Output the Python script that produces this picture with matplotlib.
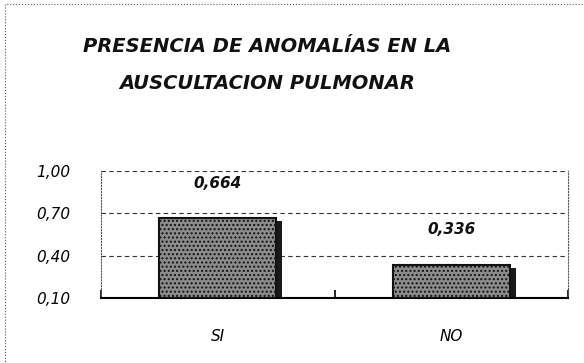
import matplotlib
matplotlib.use("Agg")
import matplotlib.pyplot as plt
from matplotlib.patches import Rectangle

categories = ["SI", "NO"]
values = [0.664, 0.336]
value_labels = ["0,664", "0,336"]
yticks = [0.10, 0.40, 0.70, 1.00]
ytick_labels = ["0,10", "0,40", "0,70", "1,00"]
title = "PRESENCIA DE ANOMALÍAS EN LA\nAUSCULTACION PULMONAR"

fig = plt.figure(figsize=(5.84, 3.63), dpi=100)
ax = fig.add_axes([0.173, 0.179, 0.80, 0.350])

x = list(range(len(categories)))
# shadow strip on right side
ax.bar([xi + 0.025 for xi in x], [v - 0.10 - 0.02 for v in values], width=0.5,
       bottom=0.10, color="#1a1a1a", zorder=2)
bars = ax.bar(x, [v - 0.10 for v in values], width=0.5, bottom=0.10,
              facecolor="#8c8c8c", edgecolor="#111111", linewidth=1.5,
              hatch="....", zorder=3)

for xi, v, lab in zip(x, values, value_labels):
    ax.annotate(lab, (xi, v), xytext=(0, 20), textcoords="offset points",
                ha="center", va="bottom", fontsize=11, fontstyle="italic",
                fontweight="bold", color="#111111")

ax.set_xlim(-0.5, 1.5)
ax.set_ylim(0.10, 1.00)
ax.set_yticks(yticks)
ax.set_yticklabels(ytick_labels, fontsize=11, fontstyle="italic")
ax.set_xticks([-0.5, 0.5, 1.5])
ax.set_xticklabels([])
ax.set_xticks(x, minor=True)
ax.set_xticklabels(categories, minor=True, fontsize=11, fontstyle="italic")
ax.tick_params(axis="x", which="minor", length=0, pad=22)
ax.tick_params(axis="x", which="major", length=6, direction="in", width=1.2)
ax.tick_params(axis="y", length=0, pad=22)

for yv in yticks[1:]:
    ax.axhline(yv, color="#333333", linestyle=(0, (4, 3)), linewidth=0.8, zorder=1)

ax.spines["bottom"].set_linewidth(1.5)
ax.spines["top"].set_visible(False)
ax.spines["left"].set_linestyle(":")
ax.spines["left"].set_color("#555555")
ax.spines["right"].set_linestyle(":")
ax.spines["right"].set_color("#555555")

fig.text(0.457, 0.821, title, ha="center", va="center", fontsize=14,
         fontweight="bold", fontstyle="italic", linespacing=2.25, color="#111111")

fig.patches.append(Rectangle((0.009, -0.05), 1.2, 1.04, transform=fig.transFigure,
                             fill=False, linestyle=":", edgecolor="#555555",
                             linewidth=0.8))

fig.savefig("out.png", dpi=100)
